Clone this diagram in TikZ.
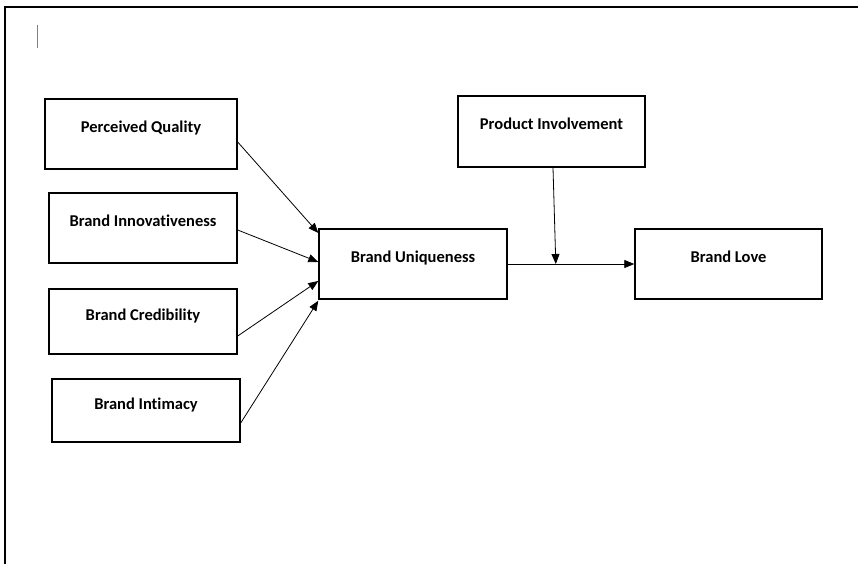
\documentclass[tikz,border=0pt]{standalone}
\usepackage{fontspec}
\setmainfont{Carlito}[Ligatures = NoCommon]
\usepackage{tikz}
\usetikzlibrary{calc, arrows.meta}

\tikzset{
	construct/.style = {draw, line width = 1.4pt, minimum width = 188pt, minimum height = 70pt,
		font = \fontsize{16.5}{18}\selectfont\bfseries, text height = 12pt, text depth = 15pt, inner sep = 0pt},
	path/.style = {line width = 0.8pt, -{Triangle[length = 10pt, width = 8pt]}}
}

\begin{document}
\begin{tikzpicture}[x = 1pt, y = -1pt]
	\useasboundingbox (0,0) rectangle (858,564);
	
	% page frame and cursor
	\draw [line width = 2pt] (5,564) -- (5,7) -- (858,7);
	\draw [gray, line width = 0.8pt] (37,25) -- (37,48);
	
	% antecedents
	\node [construct, minimum width = 192pt] (pq) at (141,134) {Perceived Quality};
	\node [construct] (bi) at (143,228) {Brand Innovativeness};
	\node [construct, minimum height = 65pt] (bc) at (143,321.5) {Brand Credibility};
	\node [construct, minimum height = 63pt] (bim) at (146,410.5) {Brand Intimacy};
	
	\node [construct] (bu) at (413,264) {Brand Uniqueness};
	\node [construct, minimum width = 187pt, minimum height = 71pt] (pi) at (551.5,131.5) {Product Involvement};
	\node [construct, minimum width = 187pt] (bl) at (728.5,264) {Brand Love};
	
	\draw [path] ([yshift = -8pt]pq.east) -- ([yshift = 31pt]bu.west);
	\draw [path] ([yshift = -2pt]bi.east) -- ([yshift = 2pt]bu.west);
	\draw [path] ([yshift = -14.5pt]bc.east) -- ([yshift = -17pt]bu.west);
	\draw [path] ([yshift = -12.5pt]bim.east) -- ([yshift = -1pt]bu.south west);
	
	\draw [path] (bu.east) -- coordinate [pos = 0.38] (m) (bl.west);
	\draw [path] ([xshift = 1.5pt]pi.south) -- (m);
\end{tikzpicture}
\end{document}
